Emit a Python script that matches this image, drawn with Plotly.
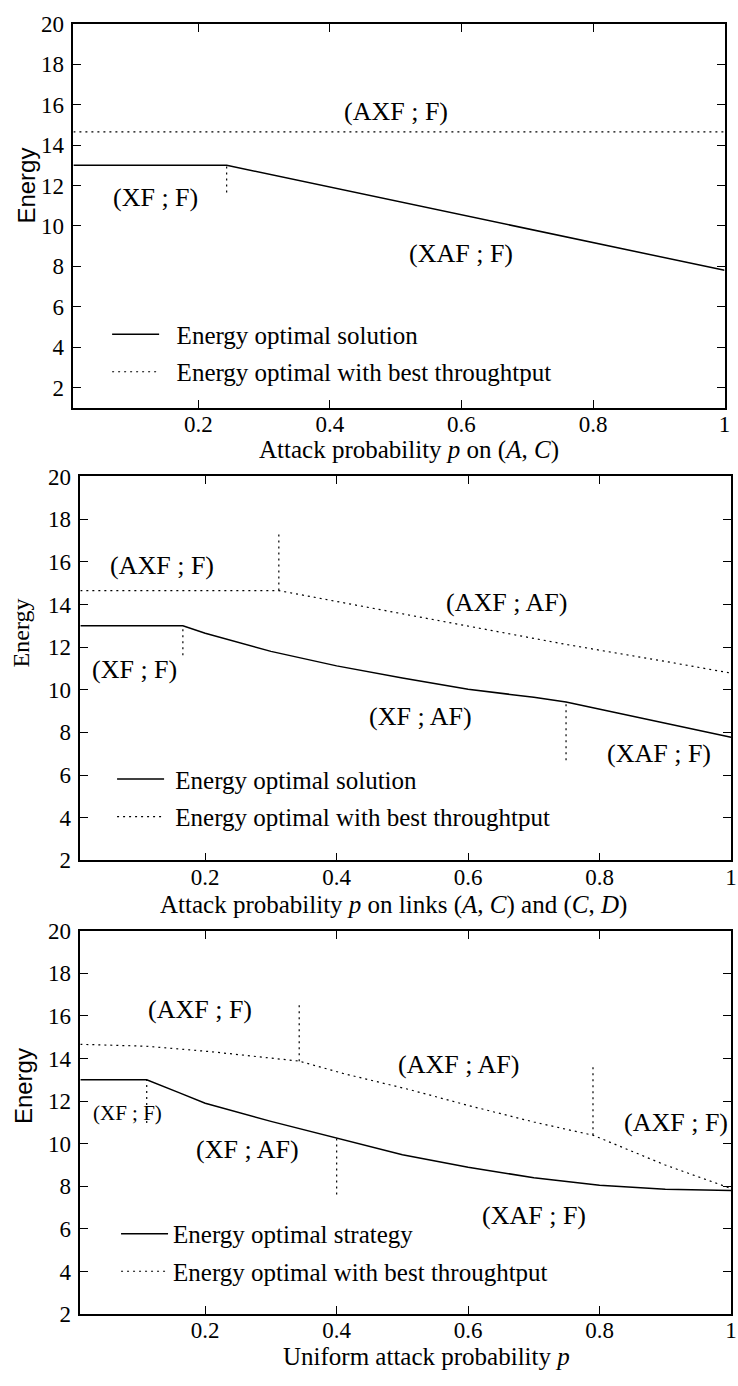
import plotly.graph_objects as go

W, H = 738, 1386

# ---------------- data ----------------
# Panel 1 : attack on (A,C)
p1_opt_x = [0.01, 0.243, 1.0]
p1_opt_y = [13.0, 13.0, 7.8]
p1_thr_x = [0.01, 1.0]
p1_thr_y = [14.65, 14.65]
p1_bnd_x = [0.243]
p1_bnd_lo = [11.65]
p1_bnd_hi = [13.0]
p1_labels = ["(AXF ; F)", "(XF ; F)", "(XAF ; F)"]
p1_label_x = [0.5, 0.135, 0.6]
p1_label_y = [15.65, 11.39, 8.65]

# Panel 2 : attack on (A,C) and (C,D)
p2_opt_x = [0.01, 0.166, 0.2, 0.3, 0.4, 0.5, 0.6, 0.7, 0.749, 1.0]
p2_opt_y = [13.0, 13.0, 12.65, 11.8, 11.12, 10.55, 10.02, 9.65, 9.43, 7.77]
p2_thr_x = [0.01, 0.312, 0.45, 0.6, 0.75, 0.9, 1.0]
p2_thr_y = [14.65, 14.65, 13.85, 12.98, 12.12, 11.33, 10.78]
p2_bnd_x = [0.166, 0.312, 0.749]
p2_bnd_lo = [11.62, 14.65, 6.7]
p2_bnd_hi = [13.0, 17.3, 9.43]
p2_labels = ["(AXF ; F)", "(AXF ; AF)", "(XF ; F)", "(XF ; AF)", "(XAF ; F)"]
p2_label_x = [0.134, 0.658, 0.092, 0.527, 0.89]
p2_label_y = [15.81, 14.08, 10.97, 8.77, 7.0]

# Panel 3 : uniform attack probability
p3_opt_x = [0.01, 0.111, 0.16, 0.2, 0.3, 0.4, 0.5, 0.6, 0.7, 0.8, 0.9, 1.0]
p3_opt_y = [13.0, 13.0, 12.4, 11.9, 11.05, 10.27, 9.48, 8.9, 8.4, 8.05, 7.86, 7.8]
p3_thr_x = [0.01, 0.11, 0.21, 0.31, 0.343, 0.41, 0.51, 0.6, 0.7, 0.79, 0.9, 1.0]
p3_thr_y = [14.67, 14.58, 14.32, 14.0, 13.88, 13.3, 12.55, 11.8, 11.02, 10.4, 9.0, 7.9]
p3_bnd_x = [0.111, 0.343, 0.4, 0.79]
p3_bnd_lo = [10.97, 13.88, 7.62, 10.4]
p3_bnd_hi = [13.0, 16.5, 10.27, 13.65]
p3_labels = ["(AXF ; F)", "(AXF ; AF)", "(XF ; F)", "(XF ; AF)", "(AXF ; F)", "(XAF ; F)"]
p3_label_x = [0.192, 0.585, 0.081, 0.265, 0.917, 0.7]
p3_label_y = [16.3, 13.72, 11.43, 9.72, 10.98, 6.63]
p3_label_small = [False, False, True, False, False, False]

x_tickvals = [0.2, 0.4, 0.6, 0.8, 1.0]
x_ticktext = ["0.2", "0.4", "0.6", "0.8", "1"]
y_tickvals = [2, 4, 6, 8, 10, 12, 14, 16, 18, 20]
y_ticktext = ["2", "4", "6", "8", "10", "12", "14", "16", "18", "20"]

legend_names = [
    ["Energy optimal solution", "Energy optimal with best throughtput"],
    ["Energy optimal solution", "Energy optimal with best throughtput"],
    ["Energy optimal strategy", "Energy optimal with best throughtput"],
]

x_titles = [
    "Attack probability <i>p</i> on (<i>A</i>, <i>C</i>)",
    "Attack probability <i>p</i> on links (<i>A</i>, <i>C</i>) and (<i>C</i>, <i>D</i>)",
    "Uniform attack probability <i>p</i>",
]

# ---------------- layout geometry (pixels) ----------------
SERIF = "Liberation Serif"
SANS = "Liberation Sans"
panels = [
    dict(px=(74, 730.5), py=(12, 403), yr=[1, 20],
         opt=(p1_opt_x, p1_opt_y), thr=(p1_thr_x, p1_thr_y),
         bnd=(p1_bnd_x, p1_bnd_lo, p1_bnd_hi),
         lab=(p1_labels, p1_label_x, p1_label_y, [False] * 3),
         ytitle=(27, 177, SANS), xtitle=(412.5, 446),
         leg=(108, 305), legpad=2),
    dict(px=(81, 737), py=(473, 864), yr=[2, 20],
         opt=(p2_opt_x, p2_opt_y), thr=(p2_thr_x, p2_thr_y),
         bnd=(p2_bnd_x, p2_bnd_lo, p2_bnd_hi),
         lab=(p2_labels, p2_label_x, p2_label_y, [False] * 5),
         ytitle=(21, 632, SERIF), xtitle=(397, 909),
         leg=(113, 758), legpad=1),
    dict(px=(81, 737), py=(935.7, 1326), yr=[2, 20],
         opt=(p3_opt_x, p3_opt_y), thr=(p3_thr_x, p3_thr_y),
         bnd=(p3_bnd_x, p3_bnd_lo, p3_bnd_hi),
         lab=(p3_labels, p3_label_x, p3_label_y, p3_label_small),
         ytitle=(23, 1094, SANS), xtitle=(429.5, 1369),
         leg=(117, 1221), legpad=0),
]

DOT = "2px,4px"
fig = go.Figure()
annotations = []
layout = dict(
    width=W, height=H,
    margin=dict(l=0, r=0, t=0, b=0),
    paper_bgcolor="white", plot_bgcolor="white",
    font=dict(family=SERIF, size=23, color="black"),
)

for i, p in enumerate(panels):
    n = i + 1
    xa = "x" if n == 1 else f"x{n}"
    ya = "y" if n == 1 else f"y{n}"
    leg = "legend" if n == 1 else f"legend{n}"
    pad = "\u00a0" * p["legpad"]
    fig.add_trace(go.Scatter(
        x=p["opt"][0], y=p["opt"][1], mode="lines", xaxis=xa, yaxis=ya,
        name=pad + legend_names[i][0], legend=leg, legendgroup=f"a{n}",
        line=dict(color="black", width=1.5)))
    fig.add_trace(go.Scatter(
        x=p["thr"][0], y=p["thr"][1], mode="lines", xaxis=xa, yaxis=ya,
        name=pad + legend_names[i][1], legend=leg, legendgroup=f"b{n}",
        line=dict(color="black", width=1.2, dash=DOT)))
    bx, blo, bhi = p["bnd"]
    vx, vy = [], []
    for xv, lo, hi in zip(bx, blo, bhi):
        vx += [xv, xv, None]
        vy += [lo, hi, None]
    fig.add_trace(go.Scatter(
        x=vx, y=vy, mode="lines", xaxis=xa, yaxis=ya, showlegend=False,
        line=dict(color="black", width=1.2, dash=DOT)))

    axis_common = dict(
        showline=True, linecolor="black", linewidth=1.5, mirror="allticks",
        ticks="inside", ticklen=8, tickwidth=1.2, tickcolor="black",
        showgrid=False, zeroline=False, fixedrange=True,
        tickfont=dict(family=SERIF, size=23, color="black"),
    )
    layout["xaxis" if n == 1 else f"xaxis{n}"] = dict(
        axis_common, domain=[p["px"][0] / W, p["px"][1] / W],
        range=[0.01, 1.0], anchor=ya,
        tickvals=x_tickvals, ticktext=x_ticktext, ticklabelstandoff=-5)
    layout["yaxis" if n == 1 else f"yaxis{n}"] = dict(
        axis_common, domain=[1 - p["py"][1] / H, 1 - p["py"][0] / H],
        range=p["yr"], anchor=xa,
        tickvals=y_tickvals, ticktext=y_ticktext, ticklabelstandoff=3)
    layout[leg] = dict(
        x=p["leg"][0] / W, y=1 - p["leg"][1] / H, xanchor="left", yanchor="top",
        xref="paper", yref="paper", bgcolor="rgba(0,0,0,0)", borderwidth=0,
        font=dict(family=SERIF, size=25, color="black"), itemwidth=47,
        traceorder="grouped", tracegroupgap=2)

    # region labels
    for txt, lx, ly, small in zip(*p["lab"]):
        annotations.append(dict(
            x=lx, y=ly, xref=xa, yref=ya, text=txt, showarrow=False,
            xanchor="center", yanchor="middle",
            font=dict(family=SERIF, size=21 if small else 26, color="black")))
    # axis titles
    annotations.append(dict(
        x=p["ytitle"][0] / W, y=1 - p["ytitle"][1] / H, xref="paper", yref="paper",
        text="Energy", textangle=-90, showarrow=False,
        xanchor="center", yanchor="middle",
        font=dict(family=p["ytitle"][2], size=24, color="black")))
    annotations.append(dict(
        x=p["xtitle"][0] / W, y=1 - p["xtitle"][1] / H, xref="paper", yref="paper",
        text=x_titles[i], showarrow=False, xanchor="center", yanchor="middle",
        font=dict(family=SERIF, size=25, color="black")))

layout["annotations"] = annotations
fig.update_layout(**layout)
fig.write_html("out.html",
               config={"displayModeBar": False},
               post_script="document.body.style.margin='0';document.body.style.overflow='hidden';")
